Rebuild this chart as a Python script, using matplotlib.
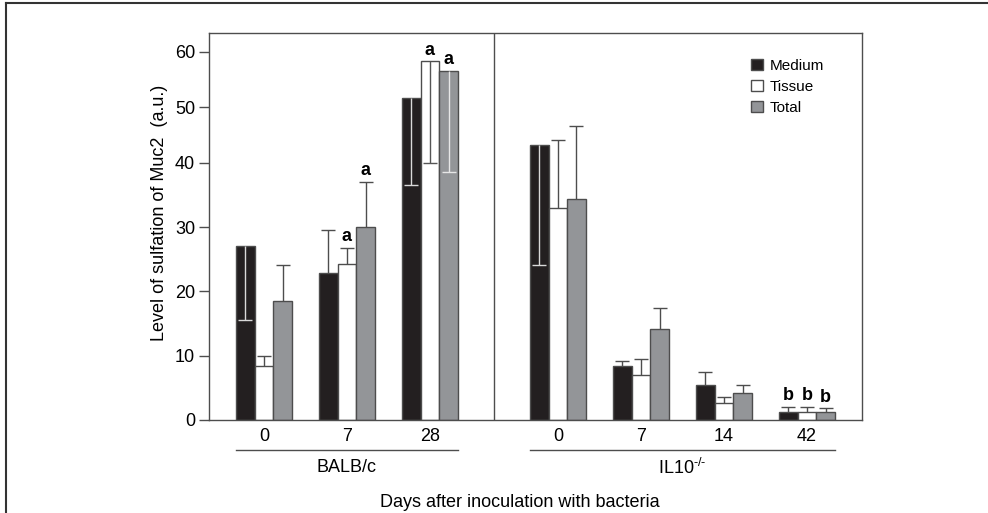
import numpy as np
import matplotlib
matplotlib.use("Agg")
import matplotlib.pyplot as plt
from matplotlib.lines import Line2D

plt.rcParams['font.family'] = ['Liberation Sans', 'DejaVu Sans']
plt.rcParams['mathtext.fontset'] = 'custom'
plt.rcParams['mathtext.rm'] = 'Liberation Sans'

# data
day_labels = ['0', '7', '28', '0', '7', '14', '42']
strains = ['BALB/c', 'IL10$^{\\mathregular{\u2010/\u2010}}$']
strain_sizes = [3, 4]

medium = [27.1, 22.8, 51.7, 43.3, 8.4, 5.5, 1.2]
medium_err = [11.5, 6.8, 15.2, 19.2, 0.7, 2.0, 0.8]
medium_dir = [-1, 1, -1, -1, 1, 1, 1]
medium_sig = ['', '', '', '', '', '', 'b']

tissue = [8.4, 24.2, 58.3, 32.9, 7.0, 2.6, 1.3]
tissue_err = [1.6, 2.6, 18.3, 11.2, 2.5, 1.0, 0.7]
tissue_dir = [1, 1, -1, 1, 1, 1, 1]
tissue_sig = ['', 'a', 'a', '', '', '', 'b']

total = [18.5, 30.0, 56.6, 34.3, 14.2, 4.2, 1.2]
total_err = [5.6, 7.0, 18.1, 12.3, 3.2, 1.3, 0.6]
total_dir = [1, 1, -1, 1, 1, 1, 1]
total_sig = ['', 'a', 'a', '', '', '', 'b']

series = [
    ('Medium', medium, medium_err, medium_dir, medium_sig, '#231f20', '#d9d9d9'),
    ('Tissue', tissue, tissue_err, tissue_dir, tissue_sig, 'white', '#555555'),
    ('Total', total, total_err, total_dir, total_sig, '#939598', '#e6e6e6'),
]

# group centres, second strain shifted right
gap = 3.542
x = np.concatenate([np.arange(strain_sizes[0]), np.arange(strain_sizes[1]) + gap])
w = 0.223
edge = '#4d4d4d'

# the original y axis is stretched differently above 40
k = 5.54 / 6.42
def fwd(v):
    v = np.asarray(v, dtype=float)
    return np.where(v <= 40, v, 40 + (v - 40) * k)
def inv(u):
    u = np.asarray(u, dtype=float)
    return np.where(u <= 40, u, 40 + (u - 40) / k)

fig = plt.figure(figsize=(9.88, 5.13), dpi=100)
ax = fig.add_axes([0.2115, 0.1813, 0.661, 0.7544])
ax.set_yscale('function', functions=(fwd, inv))

handles = []
for i, (name, vals, errs, dirs, sig, fc, down_c) in enumerate(series):
    xb = x + (i - 1) * w
    vals = np.array(vals)
    errs = np.array(errs)
    dirs = np.array(dirs)
    b = ax.bar(xb, vals, w, color=fc, edgecolor=edge, linewidth=1, zorder=2, label=name)
    handles.append(b)
    ends = vals + dirs * errs
    for xx, v, e, d in zip(xb, vals, ends, dirs):
        c = edge if d > 0 else down_c
        ax.vlines(xx, v, e, color=c, lw=1, zorder=3)
        ax.plot(xx, e, marker='_', ms=10, mew=1, color=c, zorder=3)
    for xx, v, e, s in zip(xb, vals, ends, sig):
        if s:
            ax.annotate(s, (xx, max(v, e)), xytext=(0, 2), textcoords='offset points',
                        ha='center', va='bottom', fontsize=13, fontweight='bold')

ax.set_xlim(-0.663, 7.205)
ax.set_ylim(0, 63.4)
ax.set_yticks(range(0, 61, 10))
ax.set_xticks(x)
ax.set_xticklabels(day_labels)
ax.tick_params(axis='y', length=7, width=1, color=edge, pad=3, labelsize=13)
ax.tick_params(axis='x', length=0, pad=6, labelsize=13)
for sp in ax.spines.values():
    sp.set_color(edge)
    sp.set_linewidth(1)

ax.axvline(2.771, color=edge, lw=1)

# strain brackets under the day labels
start = 0
trans = ax.get_xaxis_transform()
for name, n in zip(strains, strain_sizes):
    x0 = x[start] - 1.5 * w
    x1 = x[start + n - 1] + 1.5 * w
    ax.plot([x0, x1], [-0.0775, -0.0775], transform=trans, clip_on=False, color=edge, lw=1)
    ax.text((x0 + x1) / 2, -0.124, name, transform=trans, ha='center', va='center', fontsize=13)
    start += n

ax.legend(handles=handles, loc='upper left', bbox_to_anchor=(0.830, 0.934), frameon=False,
          fontsize=11, handlelength=0.8, handleheight=0.8, handletextpad=0.4,
          labelspacing=0.45, borderpad=0, borderaxespad=0)

fig.text(0.161, 0.585, 'Level of sulfation of Muc2  (a.u.)', rotation=90,
         ha='center', va='center', fontsize=13)
fig.text(0.526, 0.0214, 'Days after inoculation with bacteria', ha='center', va='center', fontsize=13)

# outer frame of the figure panel
fig.add_artist(Line2D([0.0061, 1.0], [0.9936, 0.9936], color='#333333', lw=1.5))
fig.add_artist(Line2D([0.0061, 0.0061], [0.0, 0.9936], color='#333333', lw=1.5))

fig.savefig('out.png', dpi=100)
